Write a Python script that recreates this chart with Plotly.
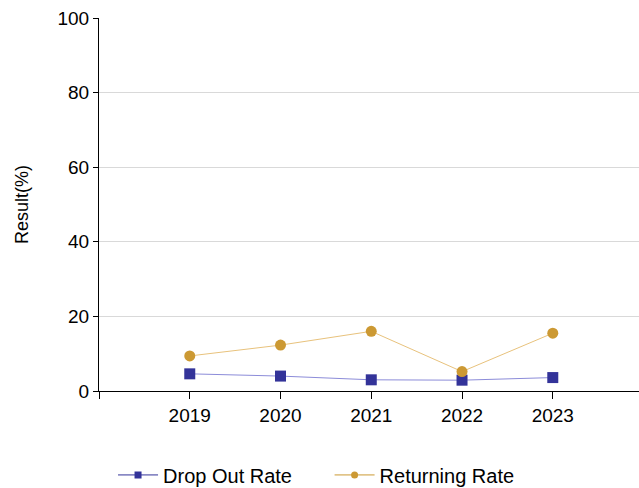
import plotly.graph_objects as go

years = ["2019", "2020", "2021", "2022", "2023"]
drop_out = [4.6, 4.0, 3.0, 2.9, 3.6]
returning = [9.4, 12.3, 16.0, 5.2, 15.5]
y_ticks = [0, 20, 40, 60, 80, 100]

fig = go.Figure()
fig.add_trace(go.Scatter(x=years, y=drop_out, mode="lines+markers", name="Drop Out Rate",
    line=dict(color="#8c8cd9", width=1), showlegend=False,
    marker=dict(symbol="square", size=11, color="#333399")))
fig.add_trace(go.Scatter(x=years, y=returning, mode="lines+markers", name="Returning Rate",
    line=dict(color="#e8c27c", width=1), showlegend=False,
    marker=dict(symbol="circle", size=11, color="#cc9933")))
# legend-only entries with small symbols
fig.add_trace(go.Scatter(x=[None], y=[None], mode="lines+markers", name="Drop Out Rate",
    line=dict(color="#333399", width=1), legend="legend",
    marker=dict(symbol="square", size=7, color="#333399")))
fig.add_trace(go.Scatter(x=[None], y=[None], mode="lines+markers", name="Returning Rate",
    line=dict(color="#cc9933", width=1), legend="legend2",
    marker=dict(symbol="circle", size=7, color="#cc9933")))

leg = dict(orientation="h", xanchor="left", y=-0.225, yanchor="middle",
           font=dict(size=20), bgcolor="rgba(0,0,0,0)", itemwidth=40)

fig.update_layout(
    width=639, height=488,
    margin=dict(l=99, r=0, t=18, b=97, autoexpand=False),
    plot_bgcolor="white", paper_bgcolor="white",
    font=dict(family="Liberation Sans, Arial, sans-serif", size=19, color="black"),
    legend=dict(leg, x=0.026),
    legend2=dict(leg, x=0.427),
    xaxis=dict(type="category", range=[-1, 4.95], showline=True, linecolor="black",
               ticks="outside", ticklen=7, tickcolor="black", showgrid=False,
               tickmode="array", tickvals=[-1] + list(range(5)), ticktext=[""] + years),
    yaxis=dict(range=[0, 100], tickvals=y_ticks, showline=True, linecolor="black",
               ticks="outside", ticklen=5, tickcolor="black", showgrid=True,
               gridcolor="#d9d9d9", zeroline=False,
               title=dict(text="Result(%)", standoff=24, font=dict(size=18))),
)

fig.write_html("out.html", config={"displayModeBar": False},
               post_script="document.body.style.margin='0';")
